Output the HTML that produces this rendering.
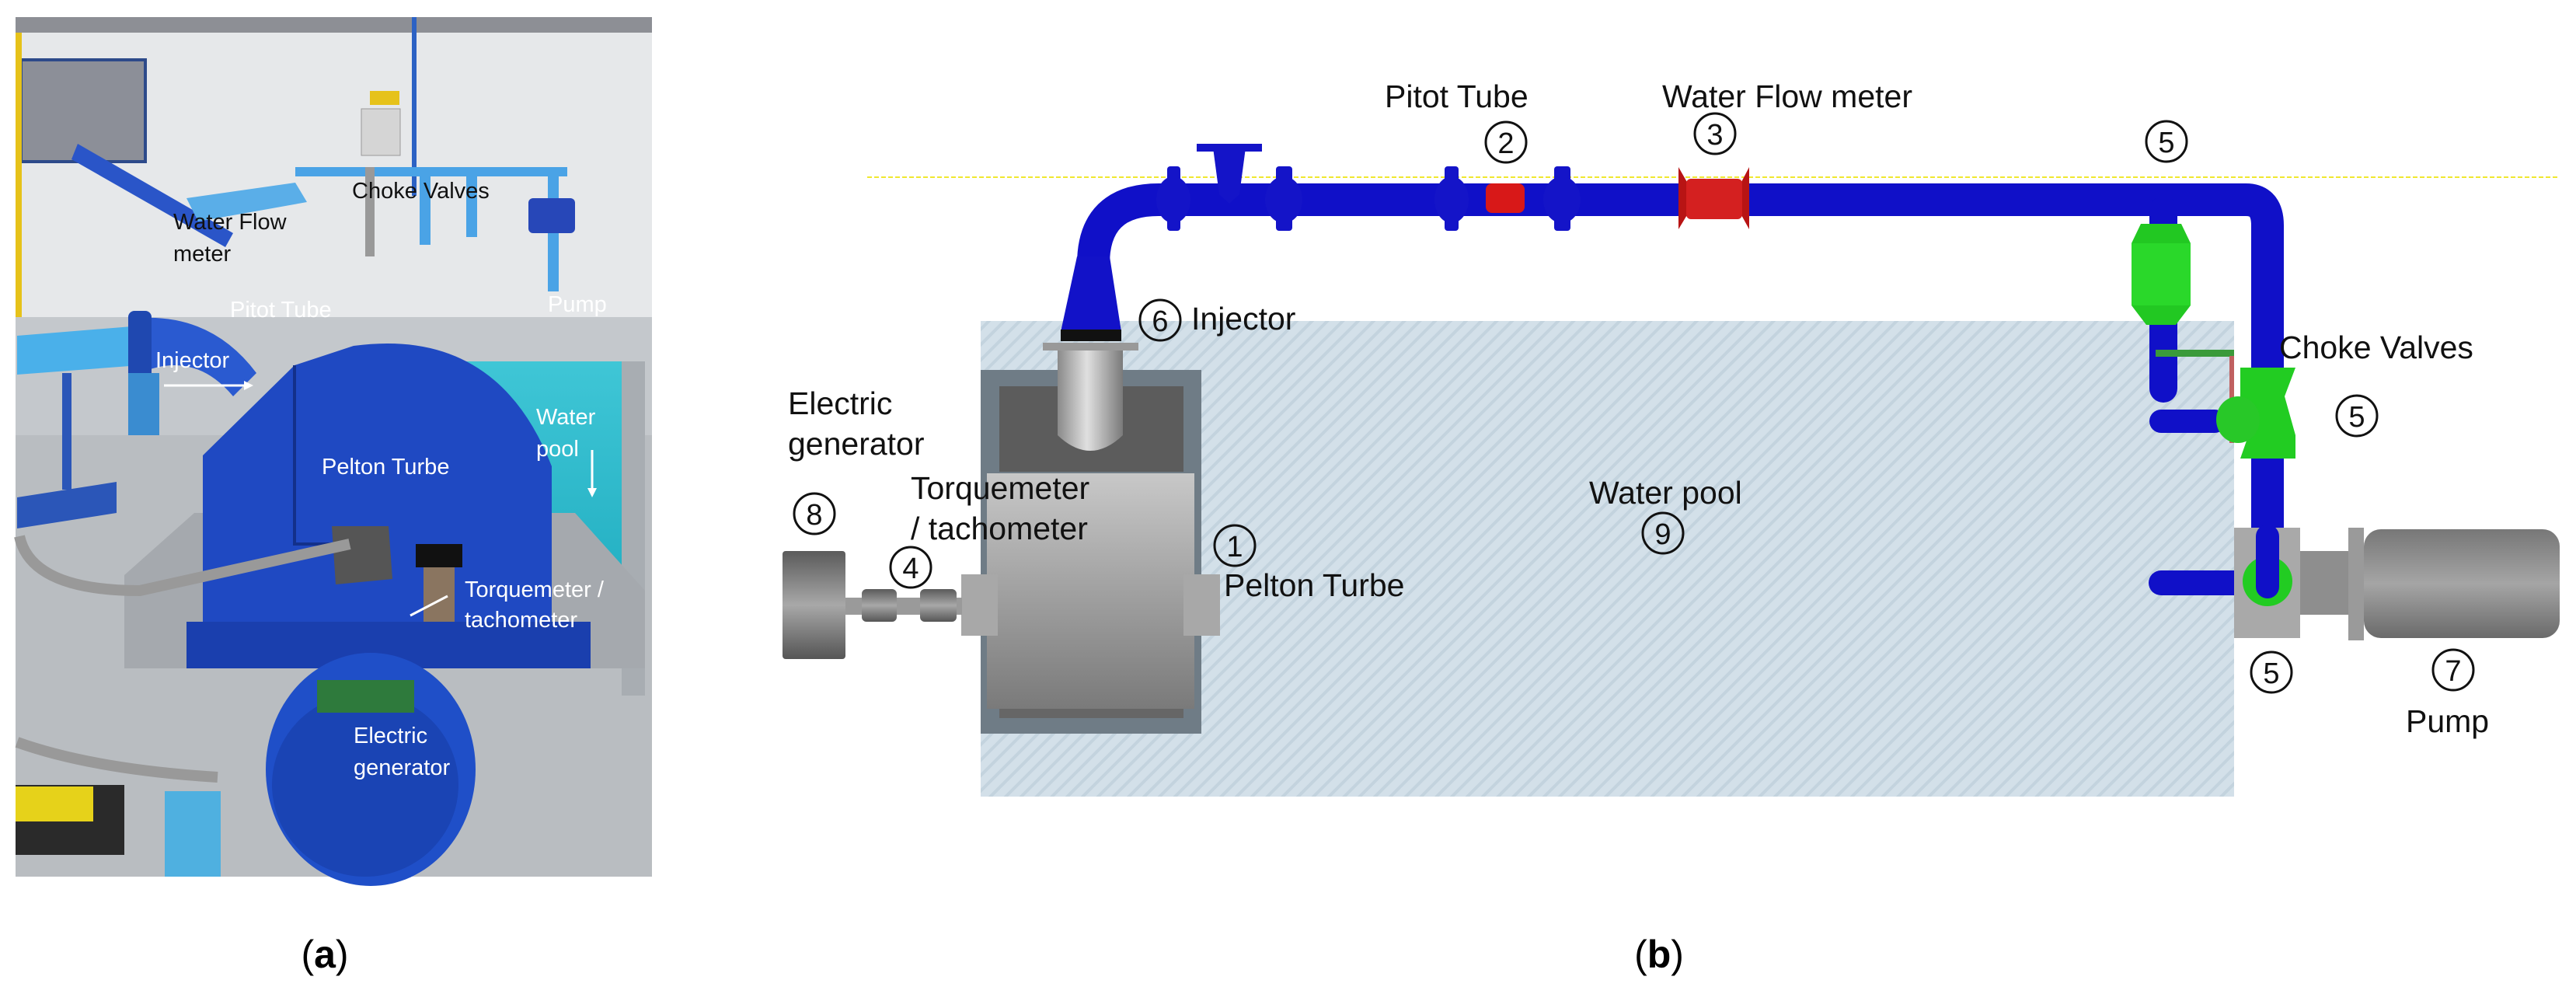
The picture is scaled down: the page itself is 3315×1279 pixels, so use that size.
<!DOCTYPE html>
<html><head><meta charset="utf-8"><style>
html,body{margin:0;padding:0;background:#fff;}
svg{display:block;}
text{font-family:"Liberation Sans",sans-serif;}
</style></head><body>
<svg width="3315" height="1279" viewBox="0 0 3315 1279" xmlns="http://www.w3.org/2000/svg">
<defs>
<pattern id="hatch" width="14" height="14" patternUnits="userSpaceOnUse" patternTransform="rotate(45)">
<rect width="14" height="14" fill="#d3e0e9"/><rect width="4" height="14" fill="#c3d3de"/>
</pattern>
<linearGradient id="gv" x1="0" y1="0" x2="0" y2="1"><stop offset="0" stop-color="#c8c8c8"/><stop offset="1" stop-color="#7a7a7a"/></linearGradient>
<linearGradient id="gh" x1="0" y1="0" x2="1" y2="0"><stop offset="0" stop-color="#8a8a8a"/><stop offset=".45" stop-color="#e0e0e0"/><stop offset="1" stop-color="#7a7a7a"/></linearGradient>
<linearGradient id="gen" x1="0" y1="0" x2="0" y2="1"><stop offset="0" stop-color="#5a5a5a"/><stop offset=".5" stop-color="#a8a8a8"/><stop offset="1" stop-color="#555"/></linearGradient>
<linearGradient id="mot" x1="0" y1="0" x2="0" y2="1"><stop offset="0" stop-color="#777"/><stop offset=".5" stop-color="#a5a5a5"/><stop offset="1" stop-color="#6a6a6a"/></linearGradient>
<linearGradient id="pool" x1="0" y1="0" x2="0" y2="1"><stop offset="0" stop-color="#3fc6d6"/><stop offset="1" stop-color="#1aa8bc"/></linearGradient>
</defs>

<!-- ============ PHOTO (a) ============ -->
<rect x="20" y="22" width="819" height="1106" fill="#e6e8ea"/>
<rect x="20" y="22" width="819" height="20" fill="#8d8f95"/>
<rect x="27" y="77" width="160" height="131" fill="#8c8f98"/>
<rect x="27" y="77" width="160" height="131" fill="none" stroke="#2d4a8a" stroke-width="4"/>
<rect x="20" y="42" width="8" height="520" fill="#e6c21a"/>
<rect x="20" y="408" width="819" height="720" fill="#c4c8cc"/>
<rect x="20" y="560" width="819" height="568" fill="#b9bdc1"/>
<rect x="530" y="22" width="6" height="230" fill="#2c62c4"/>
<rect x="465" y="140" width="50" height="60" fill="#d5d5d5" stroke="#999"/>
<rect x="476" y="117" width="38" height="18" fill="#e6c21a"/>
<!-- pool -->
<rect x="592" y="465" width="209" height="391" fill="url(#pool)"/>
<rect x="800" y="465" width="30" height="430" fill="#a8adb2"/>
<!-- pipes back -->
<rect x="380" y="215" width="350" height="12" fill="#4aa3e6"/>
<rect x="540" y="215" width="14" height="100" fill="#4aa3e6"/>
<rect x="600" y="215" width="14" height="90" fill="#4aa3e6"/>
<rect x="705" y="215" width="14" height="160" fill="#4aa3e6"/>
<rect x="470" y="215" width="12" height="115" fill="#999"/>
<rect x="680" y="255" width="60" height="45" rx="6" fill="#2747b8"/>
<path d="M100 185 L300 300 L290 318 L92 205 Z" fill="#2a55c8"/>
<path d="M240 255 L380 235 L395 260 L255 285 Z" fill="#5aaee8"/>
<path d="M22 432 L170 420 L180 470 L22 482 Z" fill="#4ab0ea"/>
<path d="M170 410 Q270 400 330 480 L300 510 Q250 450 180 480 Z" fill="#2a5ad0"/>
<rect x="165" y="400" width="30" height="90" rx="8" fill="#1f48b0"/>
<rect x="165" y="480" width="40" height="80" fill="#3a8cd0"/>
<path d="M22 640 L150 620 L150 660 L22 680 Z" fill="#2b56b8"/>
<rect x="80" y="480" width="12" height="150" fill="#2b56b8"/>
<!-- base -->
<path d="M160 740 L250 660 L740 660 L830 760 L830 860 L160 860 Z" fill="#a5a9ae"/>
<path d="M240 545 L760 545 L760 895 L240 895 Z" fill="#1f46b0" opacity="0"/>
<!-- turbine -->
<path d="M261 586 L379 470 L455 445 Q640 420 710 600 L710 830 L240 830 L240 820 L261 800 Z" fill="#1f49c2"/>
<path d="M379 470 L379 700 L430 700" fill="none" stroke="#13308a" stroke-width="4"/>
<rect x="240" y="800" width="520" height="60" fill="#1a3fae"/>
<path d="M427 677 L500 677 L505 745 L432 752 Z" fill="#555"/>
<rect x="535" y="700" width="60" height="30" fill="#111"/>
<rect x="545" y="730" width="40" height="70" fill="#8a7560"/>
<!-- generator -->
<ellipse cx="477" cy="990" rx="135" ry="150" fill="#1f4fc8"/>
<ellipse cx="470" cy="1010" rx="120" ry="118" fill="#1a44b4"/>
<rect x="408" y="875" width="125" height="42" fill="#2e7a3c"/>
<rect x="212" y="1018" width="72" height="110" fill="#4fb0e0"/>
<rect x="0" y="1010" width="140" height="90" fill="#2a2a2a" transform="translate(20,0)"/>
<rect x="20" y="1012" width="100" height="45" fill="#e6d21a"/>
<path d="M25 690 Q40 760 180 760 L450 700" fill="none" stroke="#999" stroke-width="14"/>
<path d="M22 955 Q120 990 280 1000" fill="none" stroke="#999" stroke-width="14"/>
<!-- photo labels -->
<g font-size="29">
<text x="223" y="295" fill="#111">Water Flow</text>
<text x="223" y="336" fill="#111">meter</text>
<text x="453" y="255" fill="#111">Choke Valves</text>
<text x="296" y="408" fill="#fff">Pitot Tube</text>
<text x="705" y="401" fill="#fff">Pump</text>
<text x="200" y="473" fill="#fff">Injector</text>
<text x="690" y="546" fill="#fff">Water</text>
<text x="690" y="587" fill="#fff">pool</text>
<text x="414" y="610" fill="#fff">Pelton Turbe</text>
<text x="598" y="768" fill="#fff">Torquemeter /</text>
<text x="598" y="807" fill="#fff">tachometer</text>
<text x="455" y="956" fill="#fff">Electric</text>
<text x="455" y="997" fill="#fff">generator</text>
</g>
<line x1="211" y1="496" x2="318" y2="496" stroke="#fff" stroke-width="3"/>
<path d="M326 496 L314 490 L314 502 Z" fill="#fff"/>
<line x1="762" y1="579" x2="762" y2="630" stroke="#fff" stroke-width="3"/>
<path d="M762 640 L756 628 L768 628 Z" fill="#fff"/>
<line x1="576" y1="767" x2="528" y2="792" stroke="#fff" stroke-width="3"/>
<text x="418" y="1245" font-family="Liberation Serif,serif" font-size="50" text-anchor="middle">(<tspan font-weight="bold">a</tspan>)</text>

<!-- ============ DIAGRAM (b) ============ -->
<line x1="1116" y1="228" x2="3294" y2="228" stroke="#f0e830" stroke-width="2" stroke-dasharray="6,3"/>
<rect x="1262" y="413" width="1613" height="612" fill="url(#hatch)"/>

<!-- pipe main -->
<path d="M1407 340 L1407 340 Q1407 257 1491 257 L2890 257 Q2918 257 2918 290 L2918 748" fill="none" stroke="#1010c8" stroke-width="42"/>
<!-- cone -->
<path d="M1386 330 L1428 330 L1443 427 L1365 427 Z" fill="#1212c8"/>
<rect x="1365" y="424" width="78" height="15" fill="#111"/>
<!-- flanges -->
<g fill="#1414c8">
<rect x="1502" y="214" width="17" height="83" rx="4"/>
<ellipse cx="1510" cy="257" rx="22" ry="30"/>
<rect x="1642" y="214" width="21" height="83" rx="4"/>
<ellipse cx="1652" cy="257" rx="24" ry="30"/>
<rect x="1859" y="214" width="18" height="83" rx="4"/>
<ellipse cx="1868" cy="257" rx="22" ry="30"/>
<rect x="2000" y="214" width="21" height="83" rx="4"/>
<ellipse cx="2010" cy="257" rx="24" ry="30"/>
<rect x="1540" y="185" width="84" height="10"/>
<path d="M1561 190 L1603 190 L1595 250 L1582 262 L1569 250 Z"/>
</g>
<rect x="1912" y="236" width="50" height="38" rx="8" fill="#d81818"/>
<!-- flow meter -->
<path d="M2160 215 L2172 236 L2240 236 L2251 215 L2251 295 L2240 275 L2172 275 L2160 295 Z" fill="#b81414"/>
<rect x="2170" y="230" width="72" height="52" rx="6" fill="#d42020"/>
<!-- injector grey -->
<rect x="1342" y="441" width="123" height="10" fill="#999"/>
<!-- turbine housing -->
<rect x="1262" y="476" width="284" height="468" fill="#6f7c86"/>
<rect x="1286" y="497" width="237" height="110" fill="#5c5c5c"/>
<rect x="1270" y="609" width="267" height="303" fill="url(#gv)"/>
<rect x="1286" y="912" width="237" height="12" fill="#666"/>
<path d="M1361 451 L1445 451 L1445 560 Q1403 600 1361 560 Z" fill="url(#gh)"/>
<rect x="1237" y="739" width="47" height="79" fill="#a8a8a8"/>
<rect x="1523" y="739" width="47" height="79" fill="#a8a8a8"/>
<!-- shaft & generator -->
<rect x="1088" y="769" width="150" height="22" fill="#9a9a9a"/>
<rect x="1109" y="758" width="45" height="42" rx="6" fill="url(#gen)"/>
<rect x="1184" y="758" width="47" height="42" rx="6" fill="url(#gen)"/>
<rect x="1007" y="709" width="81" height="139" rx="4" fill="url(#gen)"/>
<!-- branch + valves -->
<path d="M2784 270 L2784 500" stroke="#1010c8" stroke-width="36" stroke-linecap="round" fill="none"/>
<rect x="2743" y="313" width="76" height="80" fill="#2ad82a"/>
<path d="M2755 288 L2807 288 L2819 313 L2743 313 Z M2743 393 L2819 393 L2800 418 L2762 418 Z" fill="#22c822"/>
<path d="M2781 542 L2850 542" stroke="#1010c8" stroke-width="30" stroke-linecap="round"/>
<path d="M2781 750 L2880 750" stroke="#1010c8" stroke-width="32" stroke-linecap="round"/>
<rect x="2774" y="450" width="101" height="9" fill="#3a9a3a"/>
<line x1="2872" y1="458" x2="2872" y2="570" stroke="#c06060" stroke-width="6"/>
<path d="M2883 473 L2954 473 L2940 510 L2954 560 L2954 590 L2883 590 L2897 550 L2883 510 Z" fill="#22cc22"/>
<ellipse cx="2880" cy="540" rx="28" ry="30" fill="#28c828"/>
<!-- pump -->
<rect x="2875" y="679" width="85" height="142" fill="#a9a9a9"/>
<rect x="2960" y="709" width="62" height="82" fill="#8e8e8e"/>
<rect x="3022" y="679" width="20" height="145" fill="#9a9a9a"/>
<rect x="3042" y="681" width="252" height="140" rx="22" fill="url(#mot)"/>
<circle cx="2918" cy="748" r="32" fill="#22cc22"/>
<path d="M2918 690 L2918 755" stroke="#1010c8" stroke-width="30" stroke-linecap="round"/>

<!-- diagram labels -->
<g font-size="41" fill="#111">
<text x="1782" y="138">Pitot Tube</text>
<text x="2139" y="138">Water Flow meter</text>
<text x="1533" y="424">Injector</text>
<text x="1014" y="533">Electric</text>
<text x="1014" y="585">generator</text>
<text x="1172" y="642">Torquemeter</text>
<text x="1172" y="694">/ tachometer</text>
<text x="1575" y="767">Pelton Turbe</text>
<text x="2045" y="648">Water pool</text>
<text x="2933" y="461">Choke Valves</text>
<text x="3096" y="942">Pump</text>
</g>
<g fill="none" stroke="#111" stroke-width="3">
<circle cx="1048" cy="661" r="26"/><circle cx="1172" cy="730" r="26"/>
<circle cx="1589" cy="702" r="26"/><circle cx="1493" cy="412" r="26"/>
<circle cx="1938" cy="183" r="26"/><circle cx="2207" cy="172" r="26"/>
<circle cx="2788" cy="182" r="26"/><circle cx="3033" cy="535" r="26"/>
<circle cx="2923" cy="865" r="26"/><circle cx="3157" cy="862" r="26"/>
<circle cx="2140" cy="686" r="26"/>
</g>
<g font-size="38" fill="#111" text-anchor="middle">
<text x="1048" y="675">8</text><text x="1172" y="744">4</text>
<text x="1589" y="716">1</text><text x="1493" y="426">6</text>
<text x="1938" y="197">2</text><text x="2207" y="186">3</text>
<text x="2788" y="196">5</text><text x="3033" y="549">5</text>
<text x="2923" y="879">5</text><text x="3157" y="876">7</text>
<text x="2140" y="700">9</text>
</g>
<text x="2135" y="1245" font-family="Liberation Serif,serif" font-size="50" text-anchor="middle">(<tspan font-weight="bold">b</tspan>)</text>
</svg>
</body></html>
